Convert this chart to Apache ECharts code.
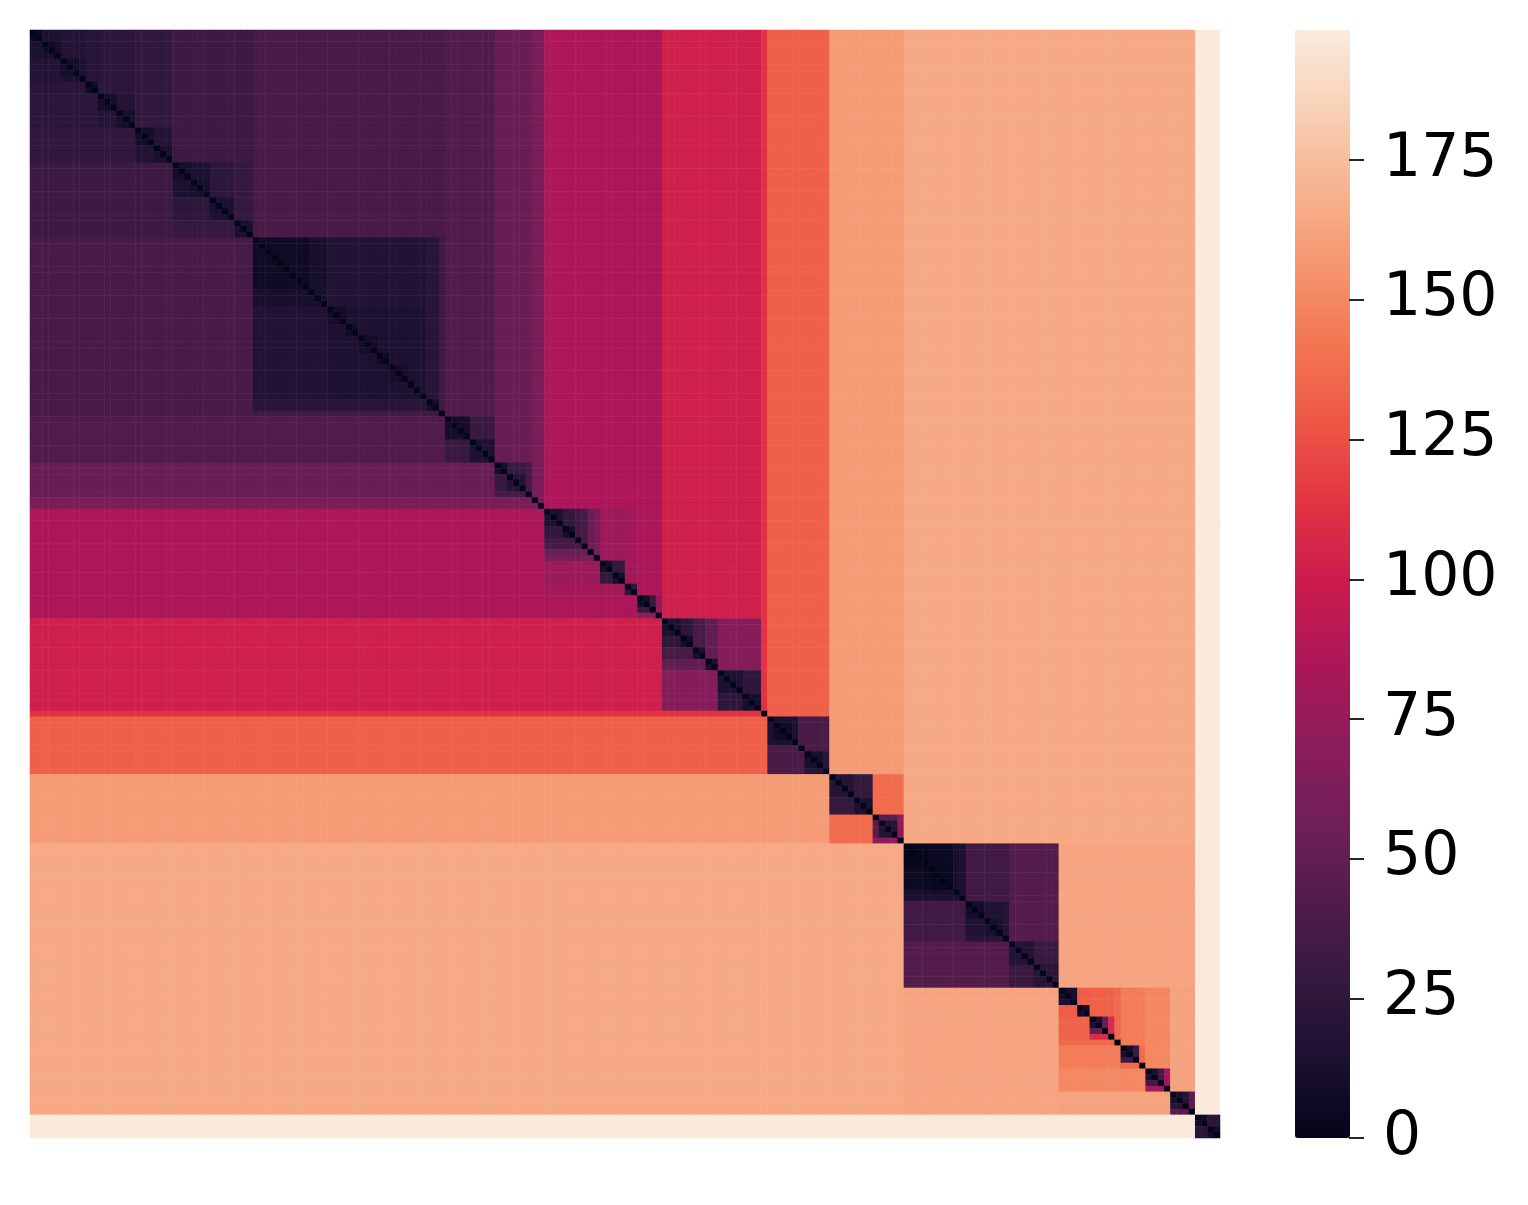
<!DOCTYPE html>
<html>
<head>
<meta charset="utf-8">
<script src="https://cdn.jsdelivr.net/npm/echarts@6/dist/echarts.min.js"></script>
<style>
  html, body { margin: 0; padding: 0; background: #fff; }
  #chart { width: 1528px; height: 1205px; }
</style>
</head>
<body>
<div id="chart"></div>
<script>
// matrix size (items ordered by the clustering)
const itemCount = 192;

// blocks: [start, end, value]
// a cell (i, j) takes the value of the smallest block holding both i and j
const blocksTop = [
  [0, 192, 198], [0, 188, 165], [0, 141, 159], [141, 188, 163],
  [0, 129, 132], [0, 119, 113], [0, 118, 102], [0, 102, 85],
  [0, 83, 62], [0, 82, 60], [0, 81, 53], [0, 75, 42], [0, 67, 37],
  [188, 192, 22], [188, 190, 8], [190, 192, 10]
];

const blocksLeft = [
  [0, 36, 32], [0, 23, 26], [0, 17, 23], [0, 11, 21], [0, 9, 18],
  [0, 5, 15], [0, 2, 5], [2, 5, 12], [2, 4, 8], [5, 9, 15], [5, 8, 10],
  [9, 11, 8], [11, 17, 20], [11, 14, 10], [14, 17, 12],
  [17, 23, 18], [17, 20, 10], [20, 23, 13],
  [23, 36, 29], [23, 33, 24], [23, 29, 15], [23, 26, 10], [26, 29, 12],
  [29, 33, 14], [33, 36, 15],
  [36, 67, 33], [36, 66, 21], [36, 64, 17], [36, 48, 12], [36, 45, 7],
  [48, 64, 15], [48, 51, 10], [51, 53, 8], [53, 56, 10], [56, 58, 8],
  [58, 61, 10], [64, 66, 10],
  [67, 75, 30], [67, 71, 10], [71, 75, 15],
  [75, 81, 36], [75, 80, 30], [75, 77, 12], [77, 80, 18]
];

const blocksMid = [
  [83, 102, 84], [83, 98, 80], [83, 96, 77], [83, 92, 60], [83, 91, 54],
  [83, 90, 37], [83, 89, 33], [83, 88, 27], [83, 86, 15], [86, 88, 12],
  [92, 96, 28], [92, 94, 10], [94, 96, 12], [96, 98, 24],
  [98, 102, 70], [98, 101, 30], [98, 100, 10],
  [102, 118, 66], [102, 111, 50], [102, 109, 37], [102, 107, 25],
  [102, 105, 15], [105, 107, 10], [107, 109, 12], [109, 111, 15],
  [111, 118, 25], [111, 115, 15], [115, 118, 12],
  [119, 129, 38], [119, 124, 15], [120, 123, 8], [125, 129, 22],
  [125, 128, 12],
  [129, 141, 137], [129, 136, 28], [129, 133, 20], [133, 136, 15],
  [136, 141, 70], [136, 140, 45], [137, 140, 18]
];

const blocksRight = [
  [141, 166, 43], [141, 158, 34], [141, 151, 14], [141, 150, 12],
  [141, 149, 5], [141, 145, 2], [145, 149, 3],
  [151, 158, 20], [151, 157, 16], [151, 154, 10], [154, 157, 12],
  [158, 166, 30], [158, 162, 18], [162, 166, 22],
  [166, 188, 162], [166, 184, 150], [166, 180, 145], [166, 176, 136],
  [166, 175, 133], [166, 171, 131], [166, 169, 12], [169, 171, 10],
  [171, 175, 108], [171, 174, 50], [171, 173, 14],
  [176, 180, 137], [176, 179, 30], [176, 178, 12],
  [180, 184, 80], [180, 183, 35], [180, 182, 15],
  [184, 188, 46], [184, 187, 20], [184, 186, 12]
];

// colour bar
const barMax = 198.3;
const barTicks = [0, 25, 50, 75, 100, 125, 150, 175];
const rocket = [
  '#03051a', '#1c1130', '#35193e', '#521c4a', '#701f57', '#8e1c5a',
  '#ad1759', '#cb1b4f', '#e13342', '#ec5545', '#f37651', '#f59570',
  '#f6b48f', '#f8d0b6', '#faebdd'
];

const allBlocks = blocksTop.concat(blocksLeft, blocksMid, blocksRight);
const cats = [];
for (let i = 0; i < itemCount; i++) cats.push(i);

const cells = [];
for (let i = 0; i < itemCount; i++) {
  for (let j = 0; j < itemCount; j++) {
    let v = 0;
    if (i !== j) {
      let best = null;
      allBlocks.forEach(b => {
        if (i >= b[0] && i < b[1] && j >= b[0] && j < b[1]) {
          if (best === null || (b[1] - b[0]) < (best[1] - best[0])) best = b;
        }
      });
      v = best[2];
    }
    cells.push([j, i, v]);
  }
}

const chart = echarts.init(document.getElementById('chart'));
const option = {
  animation: false,
  textStyle: { fontFamily: '"DejaVu Sans", sans-serif' },
  grid: [
    { left: 30, top: 30, width: 1190, height: 1108 },
    // thin grid on the right edge of the colour bar, only for its ticks
    { left: 1349, top: 30, width: 1, height: 1108 }
  ],
  xAxis: [
    { type: 'category', data: cats, show: false, gridIndex: 0 },
    { type: 'value', show: false, gridIndex: 1 }
  ],
  yAxis: [
    { type: 'category', data: cats, inverse: true, show: false, gridIndex: 0 },
    {
      type: 'value', gridIndex: 1, position: 'right', z: 10,
      min: 0, max: barMax,
      axisLine: { show: false },
      splitLine: { show: false },
      axisTick: {
        show: true, inside: false, length: 15, customValues: barTicks,
        lineStyle: { color: '#262626', width: 2 }
      },
      axisLabel: {
        customValues: barTicks, fontSize: 60, color: '#000', margin: 33,
        padding: [14, 0, 0, 0]
      }
    }
  ],
  visualMap: {
    type: 'continuous',
    z: 2,
    min: 0,
    max: barMax,
    seriesIndex: 0,
    calculable: false,
    hoverLink: false,
    orient: 'vertical',
    left: 1295,
    top: 30,
    padding: 0,
    itemWidth: 55,
    itemHeight: 1108,
    inRange: { color: rocket }
  },
  series: [{
    type: 'heatmap',
    xAxisIndex: 0,
    yAxisIndex: 0,
    data: cells,
    progressive: 0,
    itemStyle: { borderWidth: 0 },
    emphasis: { disabled: true }
  }]
};
chart.setOption(option);
</script>
</body>
</html>
